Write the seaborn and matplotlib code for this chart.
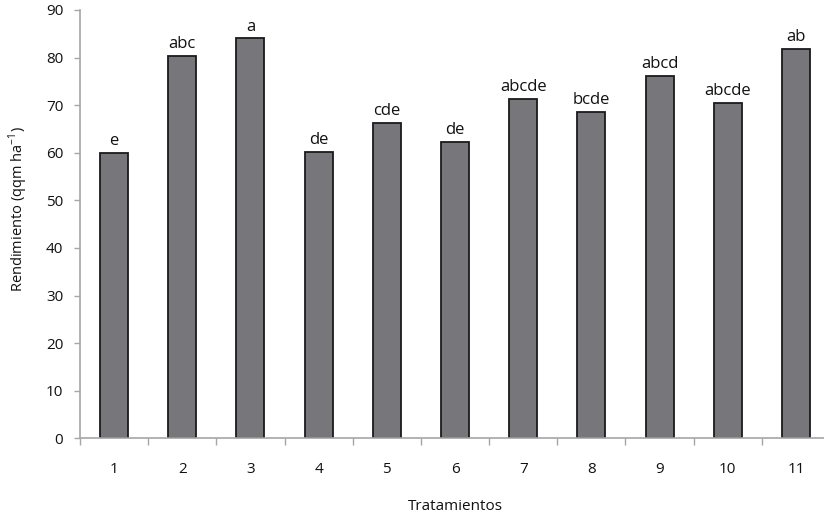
import pandas as pd
import seaborn as sns
import matplotlib.pyplot as plt
import numpy as np

# datos
tratamientos = ['1', '2', '3', '4', '5', '6', '7', '8', '9', '10', '11']
rendimiento = [60.0, 80.3, 84.0, 60.2, 66.2, 62.2, 71.3, 68.6, 76.1, 70.4, 81.8]
letras = ['e', 'abc', 'a', 'de', 'cde', 'de', 'abcde', 'bcde', 'abcd', 'abcde', 'ab']

df = pd.DataFrame({'Tratamiento': tratamientos, 'Rendimiento': rendimiento})

sns.set_style('white')
plt.rcParams['font.family'] = ['Open Sans', 'DejaVu Sans']

fig = plt.figure(figsize=(8.24, 5.14), dpi=100)
ax = fig.add_axes([80 / 824, 1 - 438.3 / 514, 750 / 824, (438.3 - 9.9) / 514])

sns.barplot(data=df, x='Tratamiento', y='Rendimiento', color='#77777b',
            saturation=1, width=0.41, edgecolor='#1a1a1a', linewidth=1.3, ax=ax)

# letras de significancia
for i, (v, t) in enumerate(zip(rendimiento, letras)):
    ax.text(i, v + 0.8, t, ha='center', va='bottom', fontsize=12, color='#111111')

ax.set_ylim(0, 90)
ax.set_xlim(-0.5, 10.5)
ax.set_yticks(np.arange(0, 91, 10))
ax.tick_params(axis='y', which='major', length=4, width=1, color='#a6a6a6',
               labelsize=11, labelcolor='#111111', pad=8, left=True)
ax.tick_params(axis='x', which='major', length=0, labelsize=11,
               labelcolor='#111111', pad=17)
ax.set_xticks(np.arange(-0.5, 11, 1), minor=True)
ax.tick_params(axis='x', which='minor', length=5, width=1, color='#a6a6a6', bottom=True)

for s in ['top', 'right']:
    ax.spines[s].set_visible(False)
for s in ['left', 'bottom']:
    ax.spines[s].set_color('#a6a6a6')
    ax.spines[s].set_linewidth(1.2)

ax.set_xlabel('')
ax.set_ylabel('')
fig.text(455 / 824, 1 - 507 / 514, 'Tratamientos', ha='center', va='center',
         fontsize=11, color='#111111')
fig.text(18 / 824, 1 - 209 / 514, 'Rendimiento (qqm ha$^{\\mathregular{-1}}$)',
         ha='center', va='center', rotation=90, fontsize=10.5, color='#111111')

fig.savefig('out.png', dpi=100)
